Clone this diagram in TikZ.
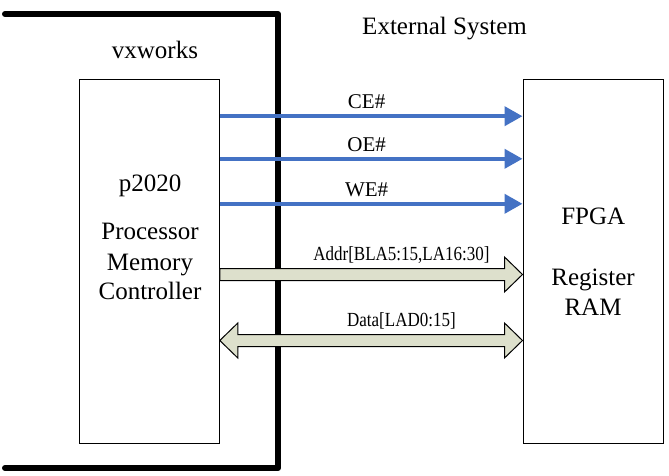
\documentclass[tikz,border=0pt]{standalone}
\usepackage{fontspec}
\setmainfont{Liberation Serif}
\newfontfamily\narrowfont[FakeStretch=0.85]{Liberation Serif}
\usetikzlibrary{arrows.meta}
\definecolor{sigblue}{RGB}{68,114,196}
\definecolor{busfill}{RGB}{221,224,204}

\begin{document}
\begin{tikzpicture}[x=1pt,y=-1pt,
        box/.style={draw,line width=1pt,minimum width=140pt,minimum height=363pt,inner sep=0pt},
        txt/.style={font=\fontsize{25}{30}\selectfont,anchor=base,inner sep=0pt},
        sig/.style={draw=sigblue,line width=4pt,-{Triangle[length=18pt,width=19pt]}},
        siglbl/.style={font=\fontsize{21}{25}\selectfont,anchor=base,inner sep=0pt},
        bus/.style={draw,line width=1pt,fill=busfill},
        buslbl/.style={font=\narrowfont\fontsize{20}{24}\selectfont,anchor=base,inner sep=0pt}]
    \useasboundingbox (0,0) rectangle (669,476);
    % border of the vxworks side
    \draw[line width=6pt,line cap=round,line join=round] (5,14) -- (278,14) -- (278,468) -- (5,468);
    \node[txt] (vx) at (155,58.3) {vxworks};
    \node[txt] (ext) at (444.5,35) {External System};
    % the two blocks
    \node[box] (proc) at (149.3,261.5) {};
    \node[box] (fpga) at (593,261.5) {};
    \node[txt] (p2020) at (150,191.7) {p2020};
    \node[txt] (pr) at (150,239.3) {Processor};
    \node[txt] (mem) at (150,270) {Memory};
    \node[txt] (ctl) at (150,299.3) {Controller};
    \node[txt] (fp) at (593.3,224) {FPGA};
    \node[txt] (reg) at (593,285.7) {Register};
    \node[txt] (ram) at (593,315) {RAM};
    % control signals
    \coordinate (ceL) at ([yshift=-36.7pt]proc.north east);
    \coordinate (oeL) at ([yshift=-79.3pt]proc.north east);
    \coordinate (weL) at ([yshift=-124.3pt]proc.north east);
    \draw[sig] (ceL) -- (ceL -| fpga.west) node[siglbl,pos=.485,yshift=7.4pt] (ce) {CE\#};
    \draw[sig] (oeL) -- (oeL -| fpga.west) node[siglbl,pos=.485,yshift=7.6pt] (oe) {OE\#};
    \draw[sig] (weL) -- (weL -| fpga.west) node[siglbl,pos=.485,yshift=7.6pt] (we) {WE\#};
    % address and data buses
    \coordinate (aL) at ([yshift=-195pt]proc.north east);
    \coordinate (aR) at (aL -| fpga.west);
    \coordinate (dL) at ([yshift=-261pt]proc.north east);
    \coordinate (dR) at (dL -| fpga.west);
    \draw[bus] (aL) ++(0,-6) -- ++(284.7,0) -- ++(0,-11.5) -- (aR) -- ++(-18,17.5)
        -- ++(0,-11.5) -- ++(-284.7,0) -- cycle;
    \draw[bus] (dL) -- ++(18,-17.5) -- ++(0,11.5) -- ++(266.7,0) -- ++(0,-11.5) -- (dR)
        -- ++(-18,17.5) -- ++(0,-11.5) -- ++(-266.7,0) -- ++(0,11.5) -- cycle;
    \path (aL) -- (aR) node[buslbl,pos=.6,yshift=14.3pt] (addr) {Addr[BLA5:15,LA16:30]};
    \path (dL) -- (dR) node[buslbl,pos=.6,yshift=13.7pt] (data) {Data[LAD0:15]};
\end{tikzpicture}
\end{document}
